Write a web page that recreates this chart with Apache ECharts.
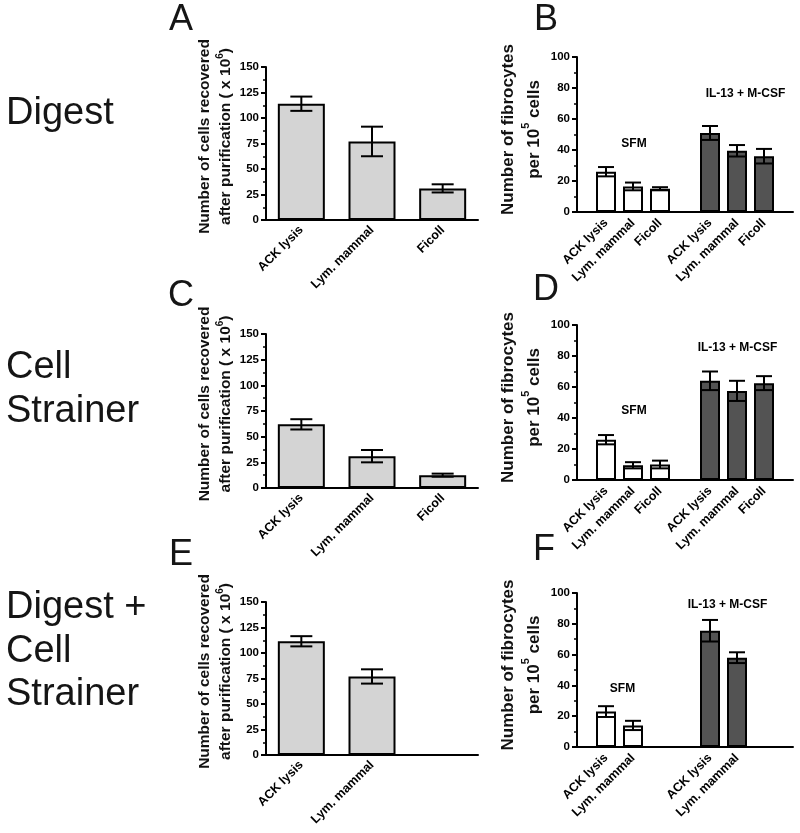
<!DOCTYPE html>
<html><head><meta charset="utf-8">
<script src="https://cdn.jsdelivr.net/npm/echarts@6/dist/echarts.min.js"></script>
<style>html,body{margin:0;padding:0;background:#fff}#main{width:800px;height:833px}</style>
</head><body><div id="main"></div>
<script>
// ---------- data ----------
const cellCategories = ['ACK lysis', 'Lym. mammal', 'Ficoll'];
const digestCells = [114, 77, 31];
const digestCellsErr = [7, 14.5, 4];
const strainerCells = [62, 31, 12.5];
const strainerCellsErr = [5, 6, 1.5];
const comboCategories = ['ACK lysis', 'Lym. mammal'];
const comboCells = [111.5, 77];
const comboCellsErr = [5, 7];

const fibroCategories = ['ACK lysis', 'Lym. mammal', 'Ficoll'];
const digestSFM = [26, 16.5, 15];
const digestSFMErr = [3, 2.5, 1];
const digestIL = [51, 39.5, 36];
const digestILErr = [4.5, 3.7, 4.7];
const strainerSFM = [26, 9.5, 10];
const strainerSFMErr = [3, 2, 2.5];
const strainerIL = [64, 57.5, 62.5];
const strainerILErr = [6, 6.5, 4.5];
const comboSFM = [23, 14];
const comboSFMErr = [3.5, 3];
const comboIL = [75.5, 58];
const comboILErr = [7, 3.5];

const cellAxisTicks = [0, 25, 50, 75, 100, 125, 150];
const fibroAxisTicks = [0, 20, 40, 60, 80, 100];

const rowLabels = [['Digest'], ['Cell', 'Strainer'], ['Digest +', 'Cell', 'Strainer']];
const panelLetters = ['A', 'B', 'C', 'D', 'E', 'F'];
const groupLabels = ['SFM', 'IL-13 + M-CSF'];
const cellAxisName = 'Number of cells recovered\nafter purification ( x 10{sup|6})';
const fibroAxisName = 'Number of fibrocytes\nper 10{sup|5} cells';

// ---------- styles ----------
const FONT = '"Liberation Sans", Arial, Helvetica, sans-serif';
const CELL_BAR_W = 47, CELL_CAP = 22;
const FIB_BAR_W = 20, FIB_GAP = 0.15, FIB_CAP = 16;
const FIB_SHIFT = FIB_BAR_W * (1 + FIB_GAP) / 2;
const TICK_FS = 11.5, CAT_FS = 12.5;

const grids = [], xAxes = [], yAxes = [], series = [];

function yAxisFor(gi, ticks, name, nameGap, namePad, fs, lh) {
  return {
    gridIndex: gi, type: 'value',
    min: ticks[0], max: ticks[ticks.length - 1], interval: ticks[1] - ticks[0],
    axisLine: { show: true, lineStyle: { color: '#000', width: 2 } },
    axisTick: { show: true, length: 5, lineStyle: { color: '#000', width: 2 } },
    minorTick: { show: true, splitNumber: 2, length: 3, lineStyle: { color: '#000', width: 1.5 } },
    splitLine: { show: false },
    axisLabel: { color: '#000', fontFamily: FONT, fontWeight: 'bold', fontSize: TICK_FS, margin: 7 },
    name: name, nameLocation: 'middle', nameRotate: 90, nameGap: nameGap,
    nameTextStyle: {
      color: '#111', fontFamily: FONT, fontWeight: 'bold', fontSize: fs, lineHeight: lh,
      padding: namePad,
      rich: { sup: { fontFamily: FONT, fontWeight: 'bold', fontSize: Math.round(fs * 0.62), verticalAlign: 'top', lineHeight: lh * 0.6, color: '#111' } }
    }
  };
}

function errRenderer(shift, cap) {
  return function (params, api) {
    const idx = api.value(0), v = api.value(1), e = api.value(2), side = api.value(3);
    const hi = api.coord([idx, v + e]);
    const lo = api.coord([idx, v - e]);
    const x = hi[0] + side * shift;
    const st = { stroke: '#000', lineWidth: 2 };
    return {
      type: 'group', children: [
        { type: 'line', shape: { x1: x, y1: hi[1], x2: x, y2: lo[1] }, style: st },
        { type: 'line', shape: { x1: x - cap / 2, y1: hi[1], x2: x + cap / 2, y2: hi[1] }, style: st },
        { type: 'line', shape: { x1: x - cap / 2, y1: lo[1], x2: x + cap / 2, y2: lo[1] }, style: st }
      ]
    };
  };
}

function addCellPanel(box, cats, vals, errs) {
  const gi = grids.length;
  grids.push({ left: box.l, top: box.t, width: box.w, height: box.h, containLabel: false, outerBoundsMode: 'none' });
  const slots = cellCategories.map((c, i) => (i < cats.length ? cats[i] : ''));
  xAxes.push({
    gridIndex: gi, type: 'category', data: slots,
    axisLine: { show: true, lineStyle: { color: '#000', width: 2 } },
    axisTick: { show: false },
    axisLabel: { interval: 0, rotate: 45, margin: 8, color: '#000', fontFamily: FONT, fontWeight: 'bold', fontSize: CAT_FS }
  });
  yAxes.push(yAxisFor(gi, cellAxisTicks, cellAxisName, 30, [0, 0, 0, 14], 15.5, 21));
  series.push({
    type: 'bar', xAxisIndex: gi, yAxisIndex: gi, data: vals, barWidth: CELL_BAR_W,
    itemStyle: { color: '#d4d4d4', borderColor: '#000', borderWidth: 2 }, silent: true
  });
  series.push({
    type: 'custom', xAxisIndex: gi, yAxisIndex: gi, z: 5, silent: true,
    data: vals.map((v, i) => [i, v, errs[i], 0]), renderItem: errRenderer(0, CELL_CAP)
  });
}

function addFibroPanel(box, cats, sfm, sfmErr, il, ilErr) {
  const gi = grids.length;
  grids.push({ left: box.l, top: box.t, width: box.w, height: box.h, containLabel: false, outerBoundsMode: 'none' });
  const group = fibroCategories.map((c, i) => (i < cats.length ? cats[i] : ''));
  const slots = [''].concat(group, group, ['']);
  const n = fibroCategories.length;
  const pad = arr => fibroCategories.map((c, i) => (i < arr.length ? arr[i] : null));
  const empty = fibroCategories.map(() => null);
  const sfmData = [null].concat(pad(sfm), empty, [null]);
  const ilData = [null].concat(empty, pad(il), [null]);
  xAxes.push({
    gridIndex: gi, type: 'category', data: slots.map((s, i) => 'slot' + i),
    axisLine: { show: true, lineStyle: { color: '#000', width: 2 } },
    axisTick: { show: false }, axisLabel: { show: false }
  });
  yAxes.push(yAxisFor(gi, fibroAxisTicks, fibroAxisName, 24, [0, 0, 0, 10], 17, 26));
  const lbl = {
    show: true, position: 'bottom', distance: 9, rotate: 45, align: 'right', verticalAlign: 'middle',
    formatter: p => slots[p.dataIndex], color: '#000', fontFamily: FONT, fontWeight: 'bold', fontSize: CAT_FS
  };
  series.push({
    type: 'bar', xAxisIndex: gi, yAxisIndex: gi, data: sfmData, barWidth: FIB_BAR_W, barGap: (FIB_GAP * 100) + '%',
    itemStyle: { color: '#ffffff', borderColor: '#000', borderWidth: 2 }, label: lbl, silent: true
  });
  series.push({
    type: 'bar', xAxisIndex: gi, yAxisIndex: gi, data: ilData, barWidth: FIB_BAR_W, barGap: (FIB_GAP * 100) + '%',
    itemStyle: { color: '#535353', borderColor: '#000', borderWidth: 2 }, label: lbl, silent: true
  });
  const errData = [];
  sfm.forEach((v, i) => errData.push([1 + i, v, sfmErr[i], -1]));
  il.forEach((v, i) => errData.push([1 + n + i, v, ilErr[i], 1]));
  series.push({
    type: 'custom', xAxisIndex: gi, yAxisIndex: gi, z: 5, silent: true,
    data: errData, renderItem: errRenderer(FIB_SHIFT, FIB_CAP)
  });
}

addCellPanel({ l: 266, t: 67, w: 212, h: 153 }, cellCategories, digestCells, digestCellsErr);
addFibroPanel({ l: 577, t: 57, w: 216, h: 155 }, fibroCategories, digestSFM, digestSFMErr, digestIL, digestILErr);
addCellPanel({ l: 266, t: 334, w: 212, h: 154 }, cellCategories, strainerCells, strainerCellsErr);
addFibroPanel({ l: 577, t: 325, w: 216, h: 155 }, fibroCategories, strainerSFM, strainerSFMErr, strainerIL, strainerILErr);
addCellPanel({ l: 266, t: 602, w: 212, h: 153 }, comboCategories, comboCells, comboCellsErr);
addFibroPanel({ l: 577, t: 593, w: 216, h: 154 }, comboCategories, comboSFM, comboSFMErr, comboIL, comboILErr);

// ---------- text decorations ----------
const graphic = [];
const rowPos = [[114], [368, 411.5], [608, 651.5, 694.5]];
rowLabels.forEach((lines, r) => lines.forEach((t, k) => graphic.push({
  type: 'text', x: 6, y: rowPos[r][k],
  style: { text: t, fontFamily: FONT, fontSize: 38, fill: '#151515', align: 'left', verticalAlign: 'middle' }
})));
const letterPos = [[169, 20], [534, 20], [168, 296], [533, 290], [169, 555], [533, 550]];
panelLetters.forEach((t, i) => graphic.push({
  type: 'text', x: letterPos[i][0], y: letterPos[i][1],
  style: { text: t, fontFamily: FONT, fontSize: 36, fill: '#151515', align: 'left', verticalAlign: 'middle' }
}));
const groupPos = [[[634, 144], [745.5, 94]], [[634, 411], [737.5, 347.5]], [[622.5, 689], [727.5, 605]]];
groupPos.forEach(pair => pair.forEach((p, k) => graphic.push({
  type: 'text', x: p[0], y: p[1],
  style: { text: groupLabels[k], fontFamily: FONT, fontWeight: 'bold', fontSize: 12, fill: '#000', align: 'center', verticalAlign: 'middle' }
})));

const chart = echarts.init(document.getElementById('main'), null, { renderer: 'canvas' });
chart.setOption({
  animation: false, backgroundColor: '#fff',
  grid: grids, xAxis: xAxes, yAxis: yAxes, series: series, graphic: graphic
});
</script></body></html>
